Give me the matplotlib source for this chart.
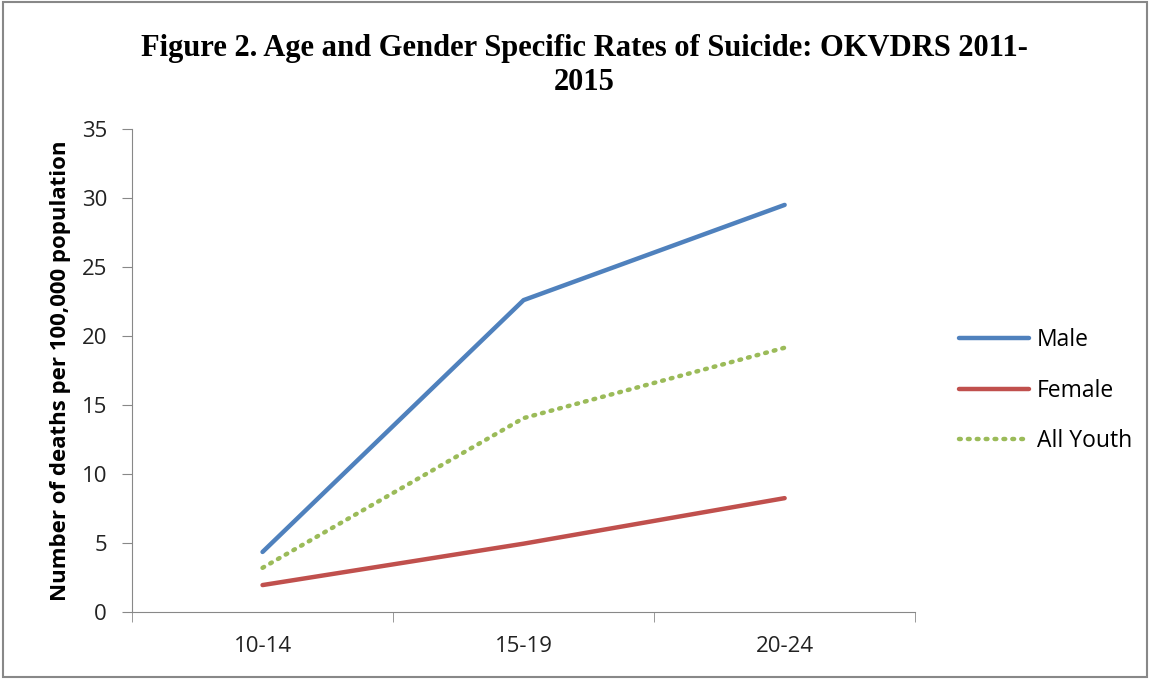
import matplotlib
matplotlib.use('Agg')
import matplotlib.pyplot as plt
from matplotlib.ticker import FixedLocator, NullFormatter

# Data
age_groups = ["10-14", "15-19", "20-24"]
male = [4.35, 22.6, 29.5]
female = [1.95, 4.95, 8.25]
all_youth = [3.2, 14.05, 19.15]

fig = plt.figure(figsize=(11.5, 6.79), dpi=100)
ax = fig.add_axes([0.1148, 0.0987, 0.681, 0.7113])

x = [i + 0.5 for i in range(len(age_groups))]
ax.plot(x, male, color='#4F81BD', lw=3.2, solid_capstyle='round', label='Male')
ax.plot(x, female, color='#C0504D', lw=3.2, solid_capstyle='round', label='Female')
ax.plot(x, all_youth, color='#9BBB59', lw=3.2, linestyle=(0, (0.4, 1.6)),
        dash_capstyle='round', label='All Youth')

ax.set_xlim(0, len(age_groups))
ax.set_ylim(0, 35)
ax.set_yticks(range(0, 36, 5))
ax.set_xticks(x)
ax.set_xticklabels(age_groups)
ax.xaxis.set_minor_locator(FixedLocator(range(len(age_groups) + 1)))
ax.xaxis.set_minor_formatter(NullFormatter())
ax.tick_params(axis='x', which='major', length=0, pad=17, labelsize=16, colors='#222222')
ax.tick_params(axis='x', which='minor', length=7, color='#888888')
ax.tick_params(axis='y', length=7, color='#888888', labelsize=16, pad=11, labelcolor='#222222')
for lab in ax.get_xticklabels() + ax.get_yticklabels():
    lab.set_family('Open Sans')

for s in ['top', 'right']:
    ax.spines[s].set_visible(False)
ax.spines['left'].set_color('#888888')
ax.spines['bottom'].set_color('#888888')

ax.set_ylabel('Number of deaths per 100,000 population', fontsize=16,
              fontweight='bold', family='Open Sans', labelpad=7.5)

fig.text(0.508, 0.929, 'Figure 2. Age and Gender Specific Rates of Suicide: OKVDRS 2011-',
         ha='center', va='center', fontsize=22, fontweight='bold', family='Liberation Serif')
fig.text(0.508, 0.879, '2015', ha='center', va='center', fontsize=22,
         fontweight='bold', family='Liberation Serif')

leg = ax.legend(loc='center left', bbox_to_anchor=(1.03, 0.458), frameon=False,
                handlelength=3.05, labelspacing=1.15, handletextpad=0.35,
                prop={'family': 'Open Sans', 'size': 16.5})

# outer border
fig.patches.append(plt.Rectangle((0.003, 0.003), 0.994, 0.994, transform=fig.transFigure,
                                 fill=False, edgecolor='#888888', lw=1.5))

fig.savefig('out.png', dpi=100)
